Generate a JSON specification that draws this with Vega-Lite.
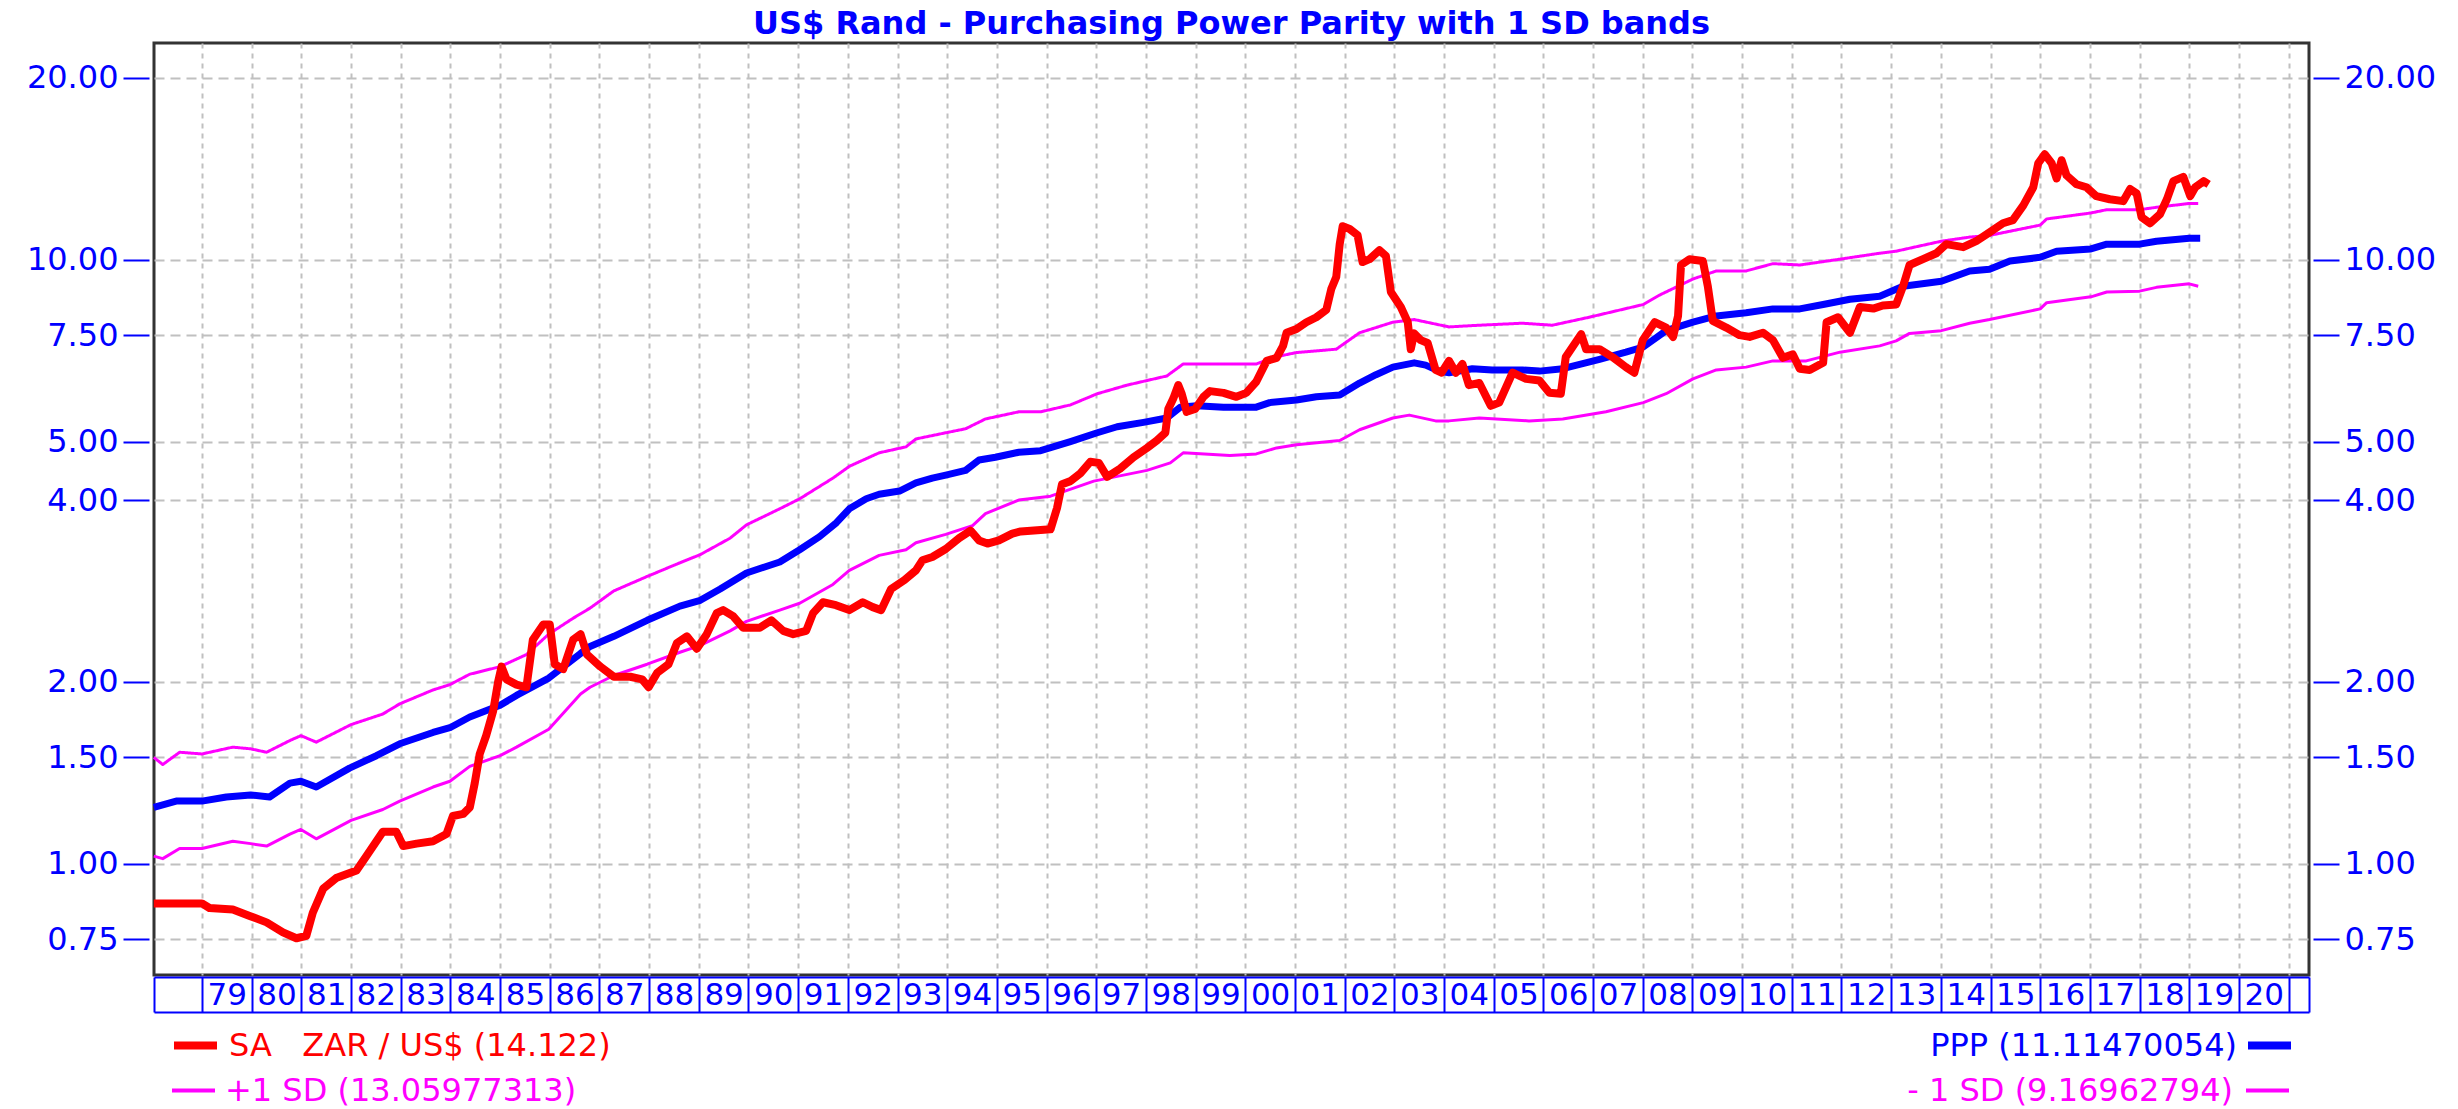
{
"$schema": "https://vega.github.io/schema/vega-lite/v6.json",
"autosize": "none",
"width": 2155,
"height": 932,
"padding": {"left": 154, "top": 43, "right": 149, "bottom": 134},
"background": "#ffffff",
"config": {"view": {"stroke": "#333333", "strokeWidth": 3}, "font": "DejaVu Sans"},
"title": {"text": "US$ Rand - Purchasing Power Parity with 1 SD bands", "anchor": "middle", "frame": "group", "font": "DejaVu Sans", "fontSize": 32, "fontWeight": "bold", "color": "#0000ff", "offset": -23, "baseline": "alphabetic"},
"datasets": {
"sa": [{"t":1978.03,"v":0.86},{"t":1979.0,"v":0.86},{"t":1979.15,"v":0.845},{"t":1979.62,"v":0.84},{"t":1979.96,"v":0.82},{"t":1980.3,"v":0.8},{"t":1980.63,"v":0.77},{"t":1980.9,"v":0.753},{"t":1981.1,"v":0.76},{"t":1981.23,"v":0.83},{"t":1981.44,"v":0.91},{"t":1981.7,"v":0.947},{"t":1982.11,"v":0.975},{"t":1982.31,"v":1.03},{"t":1982.64,"v":1.13},{"t":1982.91,"v":1.13},{"t":1983.05,"v":1.07},{"t":1983.32,"v":1.08},{"t":1983.65,"v":1.09},{"t":1983.92,"v":1.12},{"t":1984.05,"v":1.2},{"t":1984.26,"v":1.21},{"t":1984.39,"v":1.24},{"t":1984.49,"v":1.36},{"t":1984.59,"v":1.52},{"t":1984.72,"v":1.63},{"t":1984.86,"v":1.79},{"t":1984.96,"v":2.0},{"t":1985.03,"v":2.12},{"t":1985.13,"v":2.02},{"t":1985.33,"v":1.98},{"t":1985.53,"v":1.96},{"t":1985.66,"v":2.35},{"t":1985.87,"v":2.49},{"t":1986.0,"v":2.49},{"t":1986.1,"v":2.14},{"t":1986.27,"v":2.1},{"t":1986.47,"v":2.35},{"t":1986.62,"v":2.4},{"t":1986.75,"v":2.22},{"t":1987.02,"v":2.12},{"t":1987.29,"v":2.04},{"t":1987.62,"v":2.04},{"t":1987.86,"v":2.02},{"t":1987.99,"v":1.96},{"t":1988.16,"v":2.07},{"t":1988.39,"v":2.14},{"t":1988.56,"v":2.32},{"t":1988.76,"v":2.38},{"t":1988.96,"v":2.27},{"t":1989.16,"v":2.4},{"t":1989.36,"v":2.6},{"t":1989.49,"v":2.63},{"t":1989.69,"v":2.57},{"t":1989.89,"v":2.46},{"t":1990.23,"v":2.46},{"t":1990.46,"v":2.53},{"t":1990.7,"v":2.43},{"t":1990.9,"v":2.4},{"t":1991.16,"v":2.43},{"t":1991.3,"v":2.6},{"t":1991.5,"v":2.71},{"t":1991.76,"v":2.68},{"t":1992.03,"v":2.63},{"t":1992.3,"v":2.71},{"t":1992.5,"v":2.66},{"t":1992.67,"v":2.63},{"t":1992.87,"v":2.85},{"t":1993.14,"v":2.95},{"t":1993.37,"v":3.06},{"t":1993.5,"v":3.18},{"t":1993.7,"v":3.22},{"t":1993.97,"v":3.32},{"t":1994.24,"v":3.46},{"t":1994.47,"v":3.56},{"t":1994.64,"v":3.43},{"t":1994.81,"v":3.39},{"t":1995.04,"v":3.43},{"t":1995.31,"v":3.52},{"t":1995.48,"v":3.55},{"t":1995.68,"v":3.56},{"t":1996.08,"v":3.58},{"t":1996.21,"v":3.88},{"t":1996.31,"v":4.25},{"t":1996.48,"v":4.3},{"t":1996.68,"v":4.43},{"t":1996.88,"v":4.63},{"t":1997.05,"v":4.61},{"t":1997.22,"v":4.37},{"t":1997.48,"v":4.51},{"t":1997.75,"v":4.71},{"t":1998.02,"v":4.88},{"t":1998.22,"v":5.02},{"t":1998.39,"v":5.17},{"t":1998.45,"v":5.66},{"t":1998.55,"v":5.89},{"t":1998.65,"v":6.2},{"t":1998.72,"v":6.0},{"t":1998.82,"v":5.6},{"t":1998.99,"v":5.66},{"t":1999.16,"v":5.93},{"t":1999.29,"v":6.06},{"t":1999.56,"v":6.02},{"t":1999.82,"v":5.93},{"t":2000.02,"v":6.02},{"t":2000.22,"v":6.28},{"t":2000.43,"v":6.8},{"t":2000.63,"v":6.88},{"t":2000.76,"v":7.2},{"t":2000.83,"v":7.57},{"t":2001.03,"v":7.68},{"t":2001.23,"v":7.88},{"t":2001.43,"v":8.03},{"t":2001.63,"v":8.26},{"t":2001.73,"v":8.94},{"t":2001.83,"v":9.36},{"t":2001.9,"v":10.61},{"t":2001.96,"v":11.36},{"t":2002.1,"v":11.24},{"t":2002.26,"v":10.98},{"t":2002.36,"v":9.91},{"t":2002.5,"v":10.02},{"t":2002.7,"v":10.37},{"t":2002.83,"v":10.14},{"t":2002.93,"v":8.84},{"t":2003.13,"v":8.35},{"t":2003.27,"v":7.88},{"t":2003.33,"v":7.11},{"t":2003.4,"v":7.55},{"t":2003.53,"v":7.36},{"t":2003.67,"v":7.28},{"t":2003.83,"v":6.57},{"t":2003.95,"v":6.5},{"t":2004.1,"v":6.8},{"t":2004.24,"v":6.5},{"t":2004.37,"v":6.72},{"t":2004.5,"v":6.2},{"t":2004.71,"v":6.25},{"t":2004.94,"v":5.73},{"t":2005.11,"v":5.8},{"t":2005.38,"v":6.5},{"t":2005.65,"v":6.35},{"t":2005.92,"v":6.31},{"t":2006.12,"v":6.02},{"t":2006.35,"v":6.0},{"t":2006.45,"v":6.9},{"t":2006.76,"v":7.53},{"t":2006.86,"v":7.11},{"t":2007.13,"v":7.11},{"t":2007.39,"v":6.9},{"t":2007.66,"v":6.64},{"t":2007.83,"v":6.5},{"t":2008.0,"v":7.36},{"t":2008.24,"v":7.88},{"t":2008.47,"v":7.72},{"t":2008.61,"v":7.45},{"t":2008.71,"v":8.07},{"t":2008.77,"v":9.8},{"t":2008.94,"v":10.02},{"t":2009.21,"v":9.95},{"t":2009.31,"v":9.03},{"t":2009.41,"v":7.92},{"t":2009.68,"v":7.72},{"t":2009.95,"v":7.5},{"t":2010.15,"v":7.45},{"t":2010.42,"v":7.57},{"t":2010.62,"v":7.36},{"t":2010.82,"v":6.88},{"t":2011.02,"v":6.97},{"t":2011.16,"v":6.6},{"t":2011.36,"v":6.57},{"t":2011.63,"v":6.75},{"t":2011.7,"v":7.88},{"t":2011.93,"v":8.03},{"t":2012.17,"v":7.57},{"t":2012.37,"v":8.35},{"t":2012.64,"v":8.3},{"t":2012.83,"v":8.4},{"t":2013.1,"v":8.43},{"t":2013.24,"v":9.04},{"t":2013.37,"v":9.8},{"t":2013.64,"v":10.02},{"t":2013.91,"v":10.25},{"t":2014.11,"v":10.61},{"t":2014.45,"v":10.49},{"t":2014.71,"v":10.73},{"t":2014.98,"v":11.1},{"t":2015.25,"v":11.49},{"t":2015.45,"v":11.63},{"t":2015.66,"v":12.3},{"t":2015.86,"v":13.18},{"t":2015.96,"v":14.44},{"t":2016.09,"v":14.95},{"t":2016.23,"v":14.44},{"t":2016.33,"v":13.63},{"t":2016.43,"v":14.61},{"t":2016.53,"v":13.79},{"t":2016.73,"v":13.33},{"t":2016.93,"v":13.18},{"t":2017.13,"v":12.74},{"t":2017.4,"v":12.59},{"t":2017.67,"v":12.5},{"t":2017.81,"v":13.09},{"t":2017.94,"v":12.88},{"t":2018.04,"v":11.76},{"t":2018.21,"v":11.49},{"t":2018.41,"v":11.89},{"t":2018.55,"v":12.59},{"t":2018.68,"v":13.49},{"t":2018.88,"v":13.71},{"t":2019.02,"v":12.74},{"t":2019.12,"v":13.18},{"t":2019.29,"v":13.49},{"t":2019.39,"v":13.33}],
"ppp": [{"t":1978.03,"v":1.24},{"t":1978.48,"v":1.27},{"t":1979.0,"v":1.27},{"t":1979.49,"v":1.29},{"t":1979.98,"v":1.3},{"t":1980.36,"v":1.29},{"t":1980.77,"v":1.36},{"t":1980.99,"v":1.37},{"t":1981.3,"v":1.34},{"t":1981.97,"v":1.44},{"t":1982.51,"v":1.51},{"t":1982.98,"v":1.58},{"t":1983.65,"v":1.65},{"t":1983.99,"v":1.68},{"t":1984.39,"v":1.75},{"t":1985.0,"v":1.83},{"t":1985.33,"v":1.9},{"t":1985.98,"v":2.03},{"t":1986.62,"v":2.23},{"t":1986.81,"v":2.29},{"t":1987.29,"v":2.38},{"t":1987.96,"v":2.53},{"t":1988.62,"v":2.67},{"t":1989.03,"v":2.73},{"t":1989.43,"v":2.85},{"t":1989.96,"v":3.03},{"t":1990.63,"v":3.16},{"t":1991.03,"v":3.31},{"t":1991.43,"v":3.48},{"t":1991.77,"v":3.67},{"t":1992.03,"v":3.87},{"t":1992.37,"v":4.02},{"t":1992.63,"v":4.09},{"t":1993.04,"v":4.14},{"t":1993.37,"v":4.27},{"t":1993.7,"v":4.35},{"t":1993.97,"v":4.4},{"t":1994.37,"v":4.48},{"t":1994.64,"v":4.66},{"t":1994.97,"v":4.71},{"t":1995.44,"v":4.8},{"t":1995.88,"v":4.83},{"t":1996.48,"v":5.0},{"t":1997.02,"v":5.17},{"t":1997.42,"v":5.29},{"t":1997.95,"v":5.38},{"t":1998.42,"v":5.47},{"t":1998.69,"v":5.7},{"t":1999.02,"v":5.73},{"t":1999.56,"v":5.7},{"t":2000.22,"v":5.7},{"t":2000.49,"v":5.8},{"t":2001.03,"v":5.86},{"t":2001.43,"v":5.93},{"t":2001.9,"v":5.97},{"t":2002.3,"v":6.25},{"t":2002.63,"v":6.45},{"t":2002.97,"v":6.64},{"t":2003.4,"v":6.75},{"t":2003.63,"v":6.69},{"t":2003.9,"v":6.54},{"t":2004.1,"v":6.5},{"t":2004.57,"v":6.6},{"t":2004.97,"v":6.57},{"t":2005.58,"v":6.57},{"t":2005.92,"v":6.54},{"t":2006.39,"v":6.6},{"t":2007.13,"v":6.84},{"t":2007.66,"v":7.03},{"t":2008.01,"v":7.17},{"t":2008.47,"v":7.63},{"t":2009.01,"v":7.88},{"t":2009.48,"v":8.07},{"t":2010.08,"v":8.17},{"t":2010.62,"v":8.29},{"t":2011.16,"v":8.29},{"t":2011.63,"v":8.43},{"t":2012.17,"v":8.6},{"t":2012.77,"v":8.7},{"t":2013.24,"v":9.04},{"t":2014.01,"v":9.21},{"t":2014.58,"v":9.58},{"t":2014.98,"v":9.64},{"t":2015.39,"v":9.95},{"t":2016.0,"v":10.09},{"t":2016.33,"v":10.33},{"t":2017.02,"v":10.42},{"t":2017.34,"v":10.61},{"t":2018.0,"v":10.61},{"t":2018.34,"v":10.73},{"t":2019.0,"v":10.85},{"t":2019.22,"v":10.85}],
"up": [{"t":1978.03,"v":1.5},{"t":1978.21,"v":1.46},{"t":1978.55,"v":1.53},{"t":1979.0,"v":1.52},{"t":1979.62,"v":1.56},{"t":1979.98,"v":1.55},{"t":1980.3,"v":1.53},{"t":1980.77,"v":1.6},{"t":1980.99,"v":1.63},{"t":1981.3,"v":1.59},{"t":1982.0,"v":1.7},{"t":1982.64,"v":1.77},{"t":1982.98,"v":1.84},{"t":1983.65,"v":1.94},{"t":1983.99,"v":1.98},{"t":1984.39,"v":2.06},{"t":1985.0,"v":2.12},{"t":1985.53,"v":2.22},{"t":1985.98,"v":2.4},{"t":1986.47,"v":2.55},{"t":1986.81,"v":2.65},{"t":1987.29,"v":2.83},{"t":1987.96,"v":2.99},{"t":1988.62,"v":3.15},{"t":1989.03,"v":3.25},{"t":1989.63,"v":3.46},{"t":1989.96,"v":3.64},{"t":1990.63,"v":3.87},{"t":1991.03,"v":4.02},{"t":1991.7,"v":4.35},{"t":1992.03,"v":4.55},{"t":1992.63,"v":4.79},{"t":1993.17,"v":4.9},{"t":1993.37,"v":5.05},{"t":1993.97,"v":5.17},{"t":1994.37,"v":5.25},{"t":1994.77,"v":5.45},{"t":1995.44,"v":5.6},{"t":1995.88,"v":5.6},{"t":1996.48,"v":5.75},{"t":1997.02,"v":6.0},{"t":1997.62,"v":6.2},{"t":1998.42,"v":6.42},{"t":1998.75,"v":6.72},{"t":1999.56,"v":6.72},{"t":2000.22,"v":6.72},{"t":2000.63,"v":6.91},{"t":2001.03,"v":7.02},{"t":2001.83,"v":7.11},{"t":2002.3,"v":7.57},{"t":2002.97,"v":7.88},{"t":2003.4,"v":7.96},{"t":2004.1,"v":7.74},{"t":2004.71,"v":7.79},{"t":2005.58,"v":7.85},{"t":2006.18,"v":7.79},{"t":2006.92,"v":8.03},{"t":2008.01,"v":8.43},{"t":2008.34,"v":8.74},{"t":2009.01,"v":9.29},{"t":2009.48,"v":9.58},{"t":2010.08,"v":9.58},{"t":2010.62,"v":9.85},{"t":2011.16,"v":9.8},{"t":2011.97,"v":10.02},{"t":2012.77,"v":10.25},{"t":2013.1,"v":10.33},{"t":2014.01,"v":10.73},{"t":2014.58,"v":10.9},{"t":2014.98,"v":10.97},{"t":2016.0,"v":11.41},{"t":2016.13,"v":11.68},{"t":2017.02,"v":11.95},{"t":2017.34,"v":12.1},{"t":2018.0,"v":12.1},{"t":2018.34,"v":12.21},{"t":2019.0,"v":12.39},{"t":2019.18,"v":12.39}],
"dn": [{"t":1978.03,"v":1.03},{"t":1978.21,"v":1.02},{"t":1978.55,"v":1.06},{"t":1979.0,"v":1.06},{"t":1979.62,"v":1.09},{"t":1979.98,"v":1.08},{"t":1980.3,"v":1.07},{"t":1980.77,"v":1.12},{"t":1980.99,"v":1.14},{"t":1981.3,"v":1.1},{"t":1982.0,"v":1.18},{"t":1982.64,"v":1.23},{"t":1982.98,"v":1.27},{"t":1983.65,"v":1.34},{"t":1983.99,"v":1.37},{"t":1984.39,"v":1.45},{"t":1985.0,"v":1.51},{"t":1985.33,"v":1.56},{"t":1985.98,"v":1.67},{"t":1986.62,"v":1.91},{"t":1986.81,"v":1.96},{"t":1987.29,"v":2.05},{"t":1987.96,"v":2.14},{"t":1988.62,"v":2.24},{"t":1989.03,"v":2.3},{"t":1989.63,"v":2.43},{"t":1989.96,"v":2.52},{"t":1990.63,"v":2.63},{"t":1991.03,"v":2.7},{"t":1991.7,"v":2.9},{"t":1992.03,"v":3.06},{"t":1992.63,"v":3.24},{"t":1993.17,"v":3.31},{"t":1993.37,"v":3.4},{"t":1993.97,"v":3.51},{"t":1994.51,"v":3.63},{"t":1994.77,"v":3.8},{"t":1995.44,"v":4.0},{"t":1996.08,"v":4.06},{"t":1996.95,"v":4.3},{"t":1998.02,"v":4.48},{"t":1998.49,"v":4.61},{"t":1998.75,"v":4.79},{"t":1999.69,"v":4.74},{"t":2000.22,"v":4.77},{"t":2000.63,"v":4.88},{"t":2001.03,"v":4.94},{"t":2001.9,"v":5.02},{"t":2002.3,"v":5.23},{"t":2002.97,"v":5.47},{"t":2003.3,"v":5.53},{"t":2003.83,"v":5.41},{"t":2004.1,"v":5.41},{"t":2004.71,"v":5.47},{"t":2005.71,"v":5.41},{"t":2006.39,"v":5.45},{"t":2007.26,"v":5.6},{"t":2008.01,"v":5.8},{"t":2008.47,"v":6.0},{"t":2009.01,"v":6.35},{"t":2009.48,"v":6.57},{"t":2010.08,"v":6.64},{"t":2010.62,"v":6.8},{"t":2011.29,"v":6.8},{"t":2011.97,"v":7.03},{"t":2012.77,"v":7.2},{"t":2013.1,"v":7.34},{"t":2013.37,"v":7.55},{"t":2014.01,"v":7.63},{"t":2014.58,"v":7.85},{"t":2014.98,"v":7.96},{"t":2016.0,"v":8.29},{"t":2016.13,"v":8.49},{"t":2017.02,"v":8.68},{"t":2017.34,"v":8.84},{"t":2018.0,"v":8.87},{"t":2018.34,"v":9.0},{"t":2019.0,"v":9.12},{"t":2019.18,"v":9.04}]
},
"resolve": {"axis": {"x": "independent", "y": "independent"}},
"layer": [
{
"data": {"name": "up"},
"mark": {"type": "line", "color": "#ff00ff", "strokeWidth": 3, "strokeJoin": "round"},
"encoding": {
"x": {"field": "t", "type": "quantitative", "scale": {"domain": [1978.034, 2021.41], "nice": false, "zero": false},
"axis": {"orient": "bottom", "values": [1979,1980,1981,1982,1983,1984,1985,1986,1987,1988,1989,1990,1991,1992,1993,1994,1995,1996,1997,1998,1999,2000,2001,2002,2003,2004,2005,2006,2007,2008,2009,2010,2011,2012,2013,2014,2015,2016,2017,2018,2019,2020,2021], "grid": true, "gridDash": [5, 5], "gridColor": "#c0c0c0", "gridWidth": 2, "domain": false, "ticks": false, "labels": false, "title": null}},
"y": {"field": "v", "type": "quantitative", "scale": {"type": "log", "domain": [0.6546, 22.84], "nice": false},
"axis": {"orient": "left", "values": [0.75, 1, 1.5, 2, 4, 5, 7.5, 10, 20], "format": ".2f", "grid": false, "domain": false, "ticks": true, "tickColor": "#0000ff", "tickSize": 26, "tickWidth": 2, "offset": 5, "labelPadding": 5, "labelColor": "#0000ff", "labelFont": "DejaVu Sans", "labelFontSize": 32, "labelOverlap": false, "labelBaseline": "middle", "title": null}},
"strokeDash": {"datum": "+1 SD (13.05977313)", "type": "nominal", "scale": {"range": [[1, 0]]},
"legend": {"orient": "none", "legendX": 16, "legendY": 1024, "title": null, "padding": 0, "symbolType": "stroke", "symbolSize": 1849, "symbolStrokeColor": "#ff00ff", "symbolStrokeWidth": 4, "labelFont": "DejaVu Sans", "labelFontSize": 32, "labelLimit": 2000, "labelOffset": 8, "labelColor": "#ff00ff"}}
}
},
{
"data": {"name": "dn"},
"mark": {"type": "line", "color": "#ff00ff", "strokeWidth": 3, "strokeJoin": "round"},
"encoding": {
"x": {"field": "t", "type": "quantitative", "scale": {"domain": [1978.034, 2021.41], "nice": false, "zero": false},
"axis": {"orient": "bottom", "values": [1978.034,1979,1980,1981,1982,1983,1984,1985,1986,1987,1988,1989,1990,1991,1992,1993,1994,1995,1996,1997,1998,1999,2000,2001,2002,2003,2004,2005,2006,2007,2008,2009,2010,2011,2012,2013,2014,2015,2016,2017,2018,2019,2020,2021,2021.41], "grid": false, "offset": 2, "domain": true, "domainColor": "#0000ff", "domainWidth": 2, "ticks": true, "tickColor": "#0000ff", "tickWidth": 2, "tickSize": 35, "labelOffset": 24.8, "labelPadding": -8, "labelBaseline": "alphabetic", "labelColor": "#0000ff", "labelFont": "DejaVu Sans", "labelFontSize": 31, "labelOverlap": false, "labelFlush": false, "labelBound": false, "labelExpr": "datum.value >= 1979 && datum.value <= 2020 && datum.value == floor(datum.value) ? substring(toString(datum.value), 2, 4) : ''", "title": null}},
"y": {"field": "v", "type": "quantitative", "scale": {"type": "log", "domain": [0.6546, 22.84], "nice": false},
"axis": {"orient": "right", "values": [0.75, 1, 1.5, 2, 4, 5, 7.5, 10, 20], "format": ".2f", "grid": false, "domain": false, "ticks": true, "tickColor": "#0000ff", "tickSize": 26, "tickWidth": 2, "offset": 4, "labelPadding": 5, "labelColor": "#0000ff", "labelFont": "DejaVu Sans", "labelFontSize": 32, "labelOverlap": false, "labelBaseline": "middle", "title": null}},
"opacity": {"datum": "- 1 SD (9.16962794)", "type": "nominal", "scale": {"range": [1]},
"legend": {"orient": "none", "legendX": 2090, "legendY": 1024, "title": null, "padding": 0, "symbolType": "stroke", "symbolSize": 1849, "symbolStrokeColor": "#ff00ff", "symbolStrokeWidth": 4, "labelFont": "DejaVu Sans", "labelFontSize": 32, "labelLimit": 2000, "labelOffset": -58, "labelAlign": "right", "labelColor": "#ff00ff"}}
}
},
{
"data": {"name": "ppp"},
"mark": {"type": "line", "strokeWidth": 7, "strokeJoin": "round"},
"encoding": {
"x": {"field": "t", "type": "quantitative", "scale": {"domain": [1978.034, 2021.41], "nice": false, "zero": false},
"axis": {"orient": "bottom", "offset": 37, "domain": true, "domainColor": "#0000ff", "domainWidth": 2, "ticks": false, "labels": false, "grid": false, "title": null}},
"y": {"field": "v", "type": "quantitative", "scale": {"type": "log", "domain": [0.6546, 22.84], "nice": false},
"axis": {"orient": "left", "values": [0.75, 1, 1.5, 2, 4, 5, 7.5, 10, 20], "grid": true, "gridDash": [10, 6], "gridColor": "#c0c0c0", "gridWidth": 2, "domain": false, "ticks": false, "labels": false, "title": null}},
"stroke": {"datum": "PPP (11.11470054)", "type": "nominal", "scale": {"range": ["#0000ff"]},
"legend": {"orient": "none", "legendX": 2090, "legendY": 977, "title": null, "padding": 0, "symbolType": "stroke", "symbolSize": 1849, "symbolStrokeWidth": 8, "labelFont": "DejaVu Sans", "labelFontSize": 32, "labelLimit": 2000, "labelOffset": -58, "labelAlign": "right", "labelColor": "#0000ff"}}
}
},
{
"data": {"name": "sa"},
"mark": {"type": "line", "strokeWidth": 8, "strokeJoin": "round"},
"encoding": {
"x": {"field": "t", "type": "quantitative", "scale": {"domain": [1978.034, 2021.41], "nice": false, "zero": false}, "axis": null},
"y": {"field": "v", "type": "quantitative", "scale": {"type": "log", "domain": [0.6546, 22.84], "nice": false}, "axis": null},
"color": {"datum": "SA\u00a0\u00a0\u00a0ZAR / US$ (14.122)", "type": "nominal", "scale": {"range": ["#ff0000"]},
"legend": {"orient": "none", "legendX": 16, "legendY": 977, "title": null, "padding": 0, "symbolType": "stroke", "symbolSize": 1849, "symbolStrokeWidth": 8, "labelFont": "DejaVu Sans", "labelFontSize": 32, "labelLimit": 2000, "labelOffset": 8, "labelColor": "#ff0000"}}
}
}
]
}
